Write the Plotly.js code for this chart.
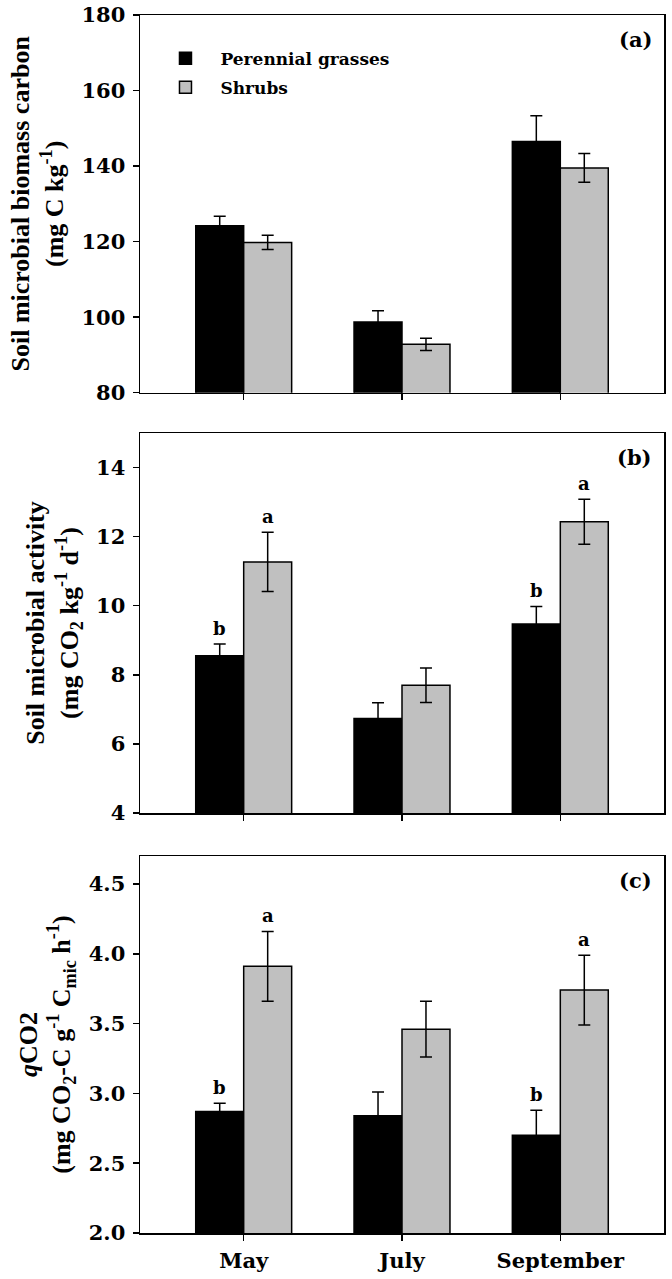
<!DOCTYPE html>
<html>
<head>
<meta charset="utf-8">
<script src="https://cdn.plot.ly/plotly-3.0.1.min.js"></script>
<style>html,body{margin:0;padding:0;background:#fff;}</style>
</head>
<body>
<div id="chart" style="width:672px;height:1279px;"></div>
<script>
// ---- data ----
var months = ["May", "July", "September"];
var seriesNames = ["Perennial grasses", "Shrubs"];

// (a) soil microbial biomass carbon (mg C kg-1)
var mbcGrass = [124.2, 98.7, 146.5];
var mbcGrassErr = [2.5, 3.0, 6.8];
var mbcShrub = [119.8, 92.8, 139.5];
var mbcShrubErr = [1.9, 1.6, 3.8];

// (b) soil microbial activity (mg CO2 kg-1 d-1)
var actGrass = [8.55, 6.74, 9.47];
var actGrassErr = [0.34, 0.45, 0.51];
var actShrub = [11.27, 7.70, 12.43];
var actShrubErr = [0.86, 0.50, 0.65];
var actGrassLetters = ["b", "", "b"];
var actShrubLetters = ["a", "", "a"];

// (c) qCO2 (mg CO2-C g-1 Cmic h-1)
var qGrass = [2.87, 2.84, 2.70];
var qGrassErr = [0.06, 0.17, 0.18];
var qShrub = [3.91, 3.46, 3.74];
var qShrubErr = [0.25, 0.20, 0.25];
var qGrassLetters = ["b", "", "b"];
var qShrubLetters = ["a", "", "a"];

var panelLabels = ["(a)", "(b)", "(c)"];
var yTitles = [
  "Soil microbial biomass carbon<br>(mg C kg<sup>-1</sup>)",
  "Soil microbial activity<br>(mg CO<sub>2</sub> kg<sup>-1</sup> d<sup>-1</sup>)",
  "<i>q</i>CO2<br>(mg CO<sub>2</sub>-C g<sup>-1</sup> C<sub>mic</sub> h<sup>-1</sup>)"
];

// ---- style ----
var BLACK = "#000000", GRAY = "#c0c0c0";
var bargap = 0.394;
var barOffset = (1 - bargap) / 4; // centre offset of each bar within a group
var tickFont = {family: "DejaVu Serif", size: 21, color: "#000", weight: "bold"};
var titleFont = {family: "Liberation Serif", size: 26, color: "#000", weight: "bold"};

function barTrace(name, y, err, color, xa, ya, showlegend) {
  return {
    type: "bar", name: name, x: months, y: y,
    xaxis: xa, yaxis: ya, legendgroup: name, showlegend: showlegend,
    marker: {color: color, line: {color: BLACK, width: 1.5}},
    error_y: {type: "data", array: err, visible: true, color: BLACK, thickness: 1.5, width: 6},
    hoverinfo: "skip"
  };
}

var data = [
  barTrace(seriesNames[0], mbcGrass, mbcGrassErr, BLACK, "x", "y", true),
  barTrace(seriesNames[1], mbcShrub, mbcShrubErr, GRAY, "x", "y", true),
  barTrace(seriesNames[0], actGrass, actGrassErr, BLACK, "x2", "y2", false),
  barTrace(seriesNames[1], actShrub, actShrubErr, GRAY, "x2", "y2", false),
  barTrace(seriesNames[0], qGrass, qGrassErr, BLACK, "x3", "y3", false),
  barTrace(seriesNames[1], qShrub, qShrubErr, GRAY, "x3", "y3", false)
];

function xAxis(anchor, showLabels) {
  return {
    type: "category", anchor: anchor, range: [-0.655, 2.655],
    showline: true, linecolor: BLACK, linewidth: 1.5, mirror: true,
    ticks: "outside", ticklen: 6, tickwidth: 1.5, tickcolor: BLACK,
    showticklabels: showLabels, tickfont: tickFont, ticklabelstandoff: 2,
    showgrid: false, zeroline: false, fixedrange: true
  };
}
function yAxis(anchor, domain, range, tick0, dtick, fmt, title) {
  return {
    anchor: anchor, domain: domain, range: range, tick0: tick0, dtick: dtick,
    tickformat: fmt,
    showline: true, linecolor: BLACK, linewidth: 1.5, mirror: true,
    ticks: "outside", ticklen: 6, tickwidth: 1.5, tickcolor: BLACK,
    tickfont: tickFont, ticklabelstandoff: 3,
    showgrid: false, zeroline: false, fixedrange: true,
    title: {text: title, font: titleFont, standoff: 10}
  };
}

var annotations = [];
var panelAxes = [["x", "y"], ["x2", "y2"], ["x3", "y3"]];
panelLabels.forEach(function (lbl, i) {
  annotations.push({
    xref: panelAxes[i][0] + " domain", yref: panelAxes[i][1] + " domain",
    x: 0.98, y: 0.935, xanchor: "right", yanchor: "middle",
    text: lbl, showarrow: false, font: {family: "DejaVu Serif", size: 21, color: "#000", weight: "bold"}
  });
});
function addLetters(letters, vals, errs, sign, xa, ya) {
  letters.forEach(function (t, i) {
    if (!t) return;
    annotations.push({
      xref: xa, yref: ya, x: i + sign * barOffset, y: vals[i] + errs[i],
      xanchor: "center", yanchor: "bottom", yshift: 3,
      text: t, showarrow: false, font: {family: "DejaVu Serif", size: 18, color: "#000", weight: "bold"}
    });
  });
}
addLetters(actGrassLetters, actGrass, actGrassErr, -1, "x2", "y2");
addLetters(actShrubLetters, actShrub, actShrubErr, 1, "x2", "y2");
addLetters(qGrassLetters, qGrass, qGrassErr, -1, "x3", "y3");
addLetters(qShrubLetters, qShrub, qShrubErr, 1, "x3", "y3");

var layout = {
  width: 672, height: 1279,
  margin: {l: 140, r: 8, t: 15, b: 46},
  paper_bgcolor: "#fff", plot_bgcolor: "#fff",
  font: {family: "DejaVu Serif", size: 21, color: "#000", weight: "bold"},
  barmode: "group", bargap: bargap, bargroupgap: 0,
  showlegend: true,
  legend: {
    x: 0.02, y: 0.979, xanchor: "left", yanchor: "top",
    bgcolor: "rgba(0,0,0,0)", borderwidth: 0,
    font: {family: "DejaVu Serif", size: 17, color: "#000", weight: "bold"},
    itemwidth: 60, tracegroupgap: 4, traceorder: "grouped"
  },
  xaxis: xAxis("y", false),
  xaxis2: xAxis("y2", false),
  xaxis3: xAxis("y3", true),
  yaxis: yAxis("x", [0.6899, 1], [80, 180], 80, 20, "", yTitles[0]),
  yaxis2: yAxis("x2", [0.3448, 0.6568], [4, 15], 4, 2, "", yTitles[1]),
  yaxis3: yAxis("x3", [0, 0.3095], [2, 4.7], 2, 0.5, ".1f", yTitles[2]),
  annotations: annotations
};

Plotly.newPlot("chart", data, layout, {displayModeBar: false, staticPlot: true});
</script>
</body>
</html>
